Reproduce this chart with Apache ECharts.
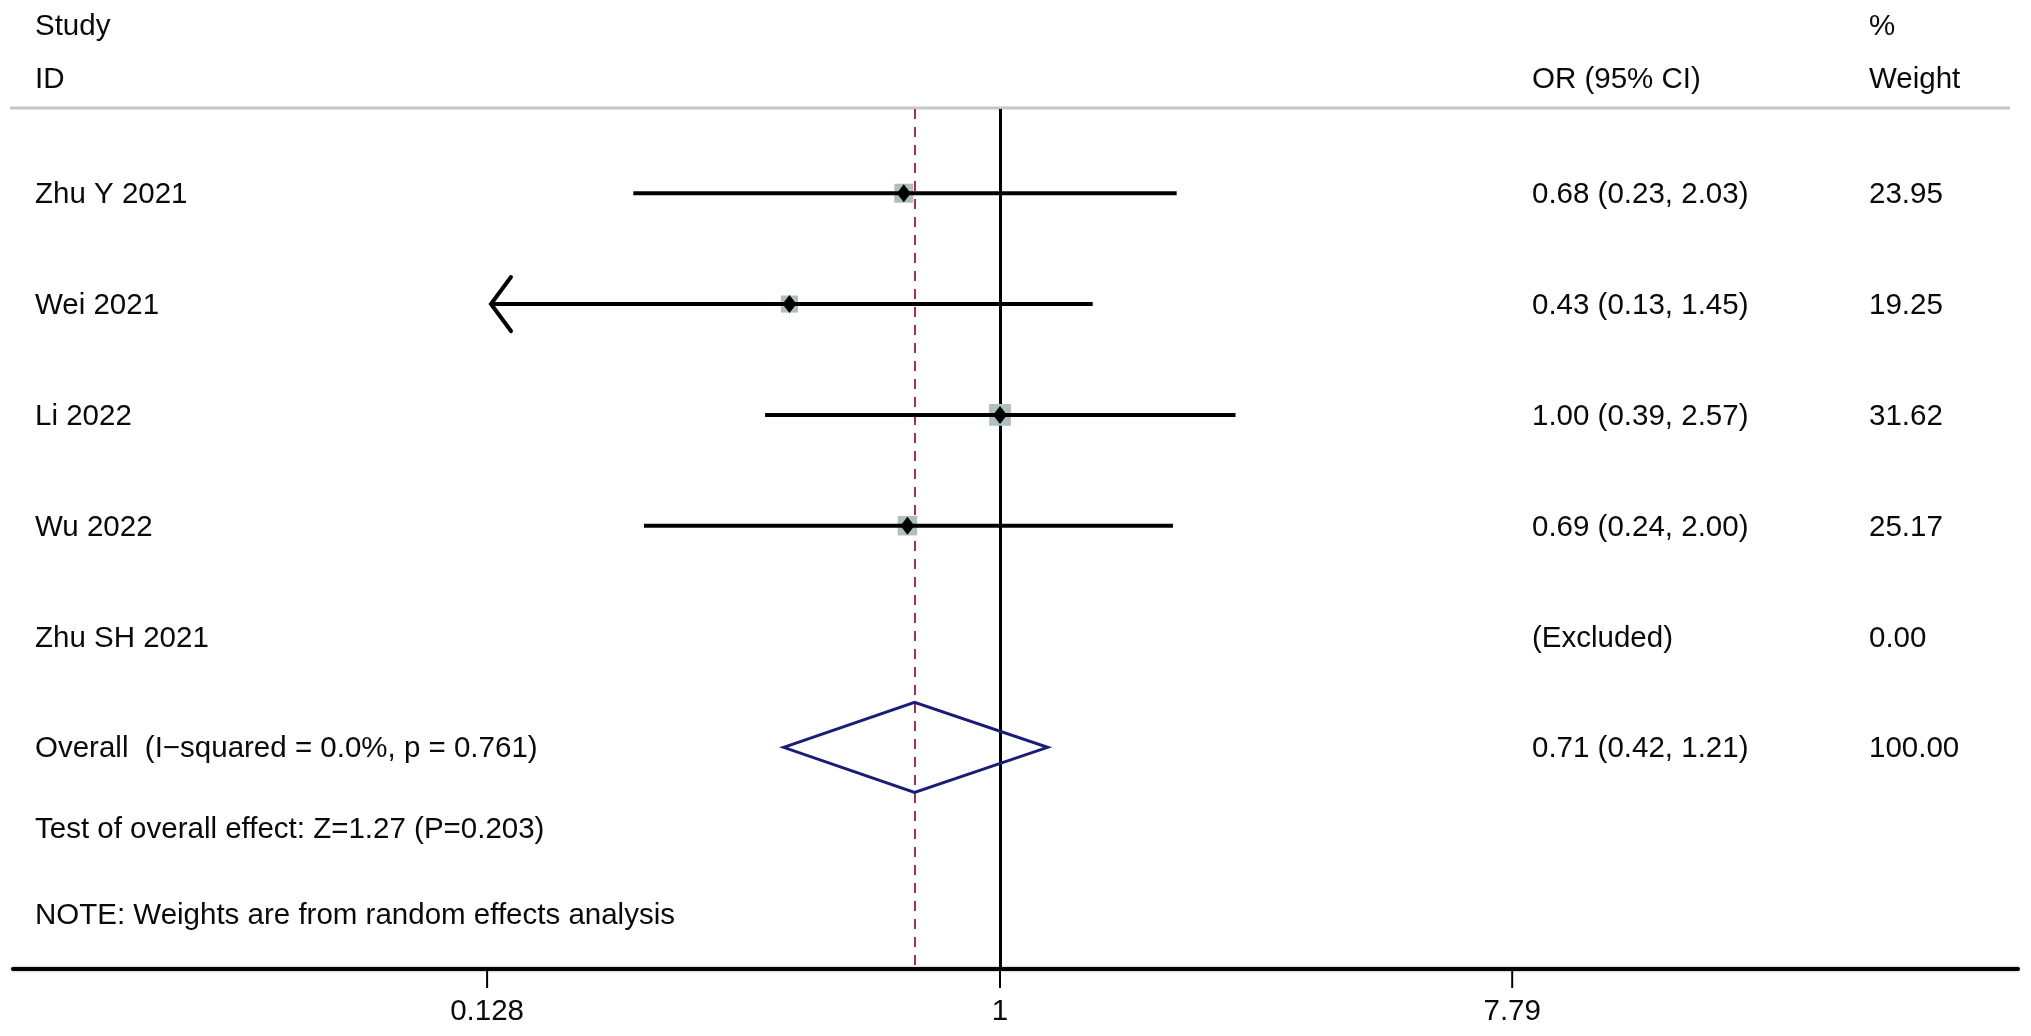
<!DOCTYPE html>
<html>
<head>
<meta charset="utf-8">
<title>Forest plot</title>
<script src="https://cdn.jsdelivr.net/npm/echarts@6/dist/echarts.min.js"></script>
<style>
  html, body { margin: 0; padding: 0; background: #fff; }
  #chart { width: 2031px; height: 1036px; }
</style>
</head>
<body>
<div id="chart"></div>
<script>
// study rows
const studies = ['Zhu Y 2021', 'Wei 2021', 'Li 2022', 'Wu 2022', 'Zhu SH 2021']
const orValues = [0.68, 0.43, 1.00, 0.69, null]
const ciLower = [0.23, 0.13, 0.39, 0.24, null]
const ciUpper = [2.03, 1.45, 2.57, 2.00, null]
const weights = [23.95, 19.25, 31.62, 25.17, 0.00]
const arrowLeft = [false, true, false, false, false]

// pooled estimate
const overallLabel = 'Overall  (I\u2212squared = 0.0%, p = 0.761)'
const overallOR = 0.71
const overallLower = 0.42
const overallUpper = 1.21
const overallWeight = 100.00

// x axis
const tickValues = [0.128, 1, 7.79]
const tickLabels = ['0.128', '1', '7.79']
const xMin = 0.01914
const xMax = 59.15

const testText = 'Test of overall effect: Z=1.27 (P=0.203)'
const noteText = 'NOTE: Weights are from random effects analysis'

const FONT = '29.5px "Liberation Sans", Arial, Helvetica, sans-serif'
const INK = '#0a0a0a'
const COL_NAME = 35
const COL_OR = 1532
const COL_W = 1869
const TEXT_DY = 2

const rows = studies.map((name, i) => ({
  name,
  or: orValues[i],
  lo: ciLower[i],
  hi: ciUpper[i],
  weight: weights[i],
  arrow: arrowLeft[i],
  pooled: false
}))
rows.push({
  name: overallLabel, or: overallOR, lo: overallLower, hi: overallUpper,
  weight: overallWeight, arrow: false, pooled: true
})

function txt(x, y, text, align) {
  return {
    type: 'text',
    style: {
      x, y: y + TEXT_DY, text, font: FONT, fill: INK,
      align: align || 'left', verticalAlign: 'middle',
      textAlign: align || 'left', textVerticalAlign: 'middle'
    }
  }
}

function renderRow(params, api) {
  const r = rows[params.dataIndex]
  const row = api.value(1)
  const y = api.coord([1, row])[1]
  const children = []

  if (r.lo != null) {
    const x0 = api.coord([r.lo, row])[0]
    const x1 = api.coord([r.hi, row])[0]
    const xm = api.coord([r.or, row])[0]
    if (r.pooled) {
      children.push({
        type: 'polygon',
        shape: { points: [[x0, y], [xm, y - 45], [x1, y], [xm, y + 45]] },
        style: { fill: 'none', stroke: '#1b1b78', lineWidth: 3, lineJoin: 'miter' }
      })
    } else {
      const s = 19 * Math.sqrt(r.weight / 24)
      children.push({
        type: 'rect',
        shape: { x: xm - s / 2, y: y - s / 2, width: s, height: s },
        style: { fill: '#aebfbd' }
      })
      children.push({
        type: 'line',
        shape: { x1: x0, y1: y, x2: x1, y2: y },
        style: { stroke: '#000', lineWidth: 4 }
      })
      if (r.arrow) {
        children.push({
          type: 'polyline',
          shape: { points: [[x0 + 20, y - 27], [x0, y], [x0 + 20, y + 27]] },
          style: { fill: 'none', stroke: '#000', lineWidth: 4, lineCap: 'round' }
        })
      }
      children.push({
        type: 'polygon',
        shape: { points: [[xm - 7, y], [xm, y - 9], [xm + 7, y], [xm, y + 9]] },
        style: { fill: '#000' }
      })
    }
  }

  const orText = r.lo == null
    ? '(Excluded)'
    : r.or.toFixed(2) + ' (' + r.lo.toFixed(2) + ', ' + r.hi.toFixed(2) + ')'
  children.push(txt(COL_NAME, y, r.name))
  children.push(txt(COL_OR, y, orText))
  children.push(txt(COL_W, y, r.weight.toFixed(2)))

  return { type: 'group', children }
}

function renderTick(params, api) {
  const x = api.coord([api.value(0), 1])[0]
  const bottom = params.coordSys.y + params.coordSys.height
  return {
    type: 'group',
    children: [
      { type: 'line', shape: { x1: x, y1: bottom, x2: x, y2: bottom + 19 }, style: { stroke: '#000', lineWidth: 2 } },
      txt(x, bottom + 41, tickLabels[params.dataIndex], 'center')
    ]
  }
}

const chart = echarts.init(document.getElementById('chart'), null, { renderer: 'canvas' })

chart.setOption({
  animation: false,
  backgroundColor: '#fff',
  grid: { left: 13, right: 13, top: 109, bottom: 67, containLabel: false, outerBoundsMode: 'none' },
  xAxis: {
    type: 'log',
    min: xMin,
    max: xMax,
    axisLine: { show: true, onZero: false, lineStyle: { color: '#000', width: 4, shadowColor: 'rgba(0,0,0,0.35)', shadowBlur: 3 } },
    axisTick: { show: false },
    axisLabel: { show: false },
    splitLine: { show: false }
  },
  yAxis: { type: 'value', inverse: true, min: 0.24, max: 8, show: false },
  graphic: [
    { type: 'line', shape: { x1: 10, y1: 108, x2: 2010, y2: 108 }, style: { stroke: '#c6c6c6', lineWidth: 3 } },
    txt(COL_NAME, 25, 'Study'),
    txt(COL_NAME, 78, 'ID'),
    txt(COL_OR, 78, 'OR (95% CI)'),
    txt(COL_W, 25, '%'),
    txt(COL_W, 78, 'Weight'),
    txt(COL_NAME, 828, testText),
    txt(COL_NAME, 914, noteText)
  ],
  series: [
    {
      type: 'line',
      data: [],
      silent: true,
      z: 1,
      markLine: {
        silent: true,
        z: 1,
        symbol: ['none', 'none'],
        label: { show: false },
        data: [
          { xAxis: 1, lineStyle: { color: '#000', width: 3, type: 'solid' } },
          { xAxis: overallOR, lineStyle: { color: '#a0305a', width: 2, type: [10, 8] } }
        ]
      }
    },
    {
      type: 'custom',
      z: 10,
      silent: true,
      renderItem: renderRow,
      data: rows.map((r, i) => [r.or == null ? 1 : r.or, i + 1])
    },
    {
      type: 'custom',
      z: 10,
      silent: true,
      renderItem: renderTick,
      data: tickValues.map(v => [v, 8])
    }
  ]
})
</script>
</body>
</html>
